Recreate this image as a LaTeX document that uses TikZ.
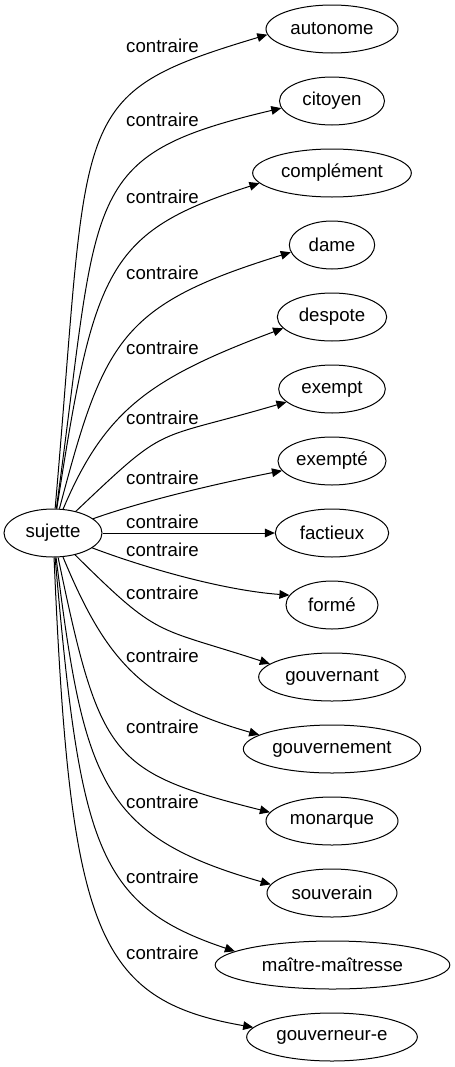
\documentclass[tikz,border=0pt]{standalone}
\usepackage{fontspec}
\setmainfont{Liberation Sans}
\usetikzlibrary{shapes.geometric,arrows.meta}
\begin{document}
\begin{tikzpicture}[x=0.75pt,y=-0.75pt,
  word/.style={draw, ellipse, minimum height=36pt, inner sep=0pt, line width=0.75pt, font=\fontsize{14}{16}\selectfont},
  lab/.style={inner sep=0pt, font=\fontsize{14}{16}\selectfont},
  edge/.style={-{Triangle[length=7.5pt,width=6.5pt]}, line width=0.75pt}]
\useasboundingbox (0,0) rectangle (454,1067);
% nodes
\node[word, minimum width=73.5pt] (suj) at (53,533) {sujette};
\node[word, minimum width=99pt]   (n1)  at (332,29)   {autonome};
\node[word, minimum width=78.75pt](n2)  at (332,101)  {citoyen};
\node[word, minimum width=119pt]  (n3)  at (332,173)  {complément};
\node[word, minimum width=64pt]   (n4)  at (332,245)  {dame};
\node[word, minimum width=82pt]   (n5)  at (332,317)  {despote};
\node[word, minimum width=80pt]   (n6)  at (332,389)  {exempt};
\node[word, minimum width=81pt]   (n7)  at (332,461)  {exempté};
\node[word, minimum width=85pt]   (n8)  at (332,533)  {factieux};
\node[word, minimum width=69pt]   (n9)  at (332,605)  {formé};
\node[word, minimum width=110pt]  (n10) at (332,677)  {gouvernant};
\node[word, minimum width=133pt]  (n11) at (332,749)  {gouvernement};
\node[word, minimum width=99pt]   (n12) at (332,821)  {monarque};
\node[word, minimum width=97.5pt] (n13) at (332,893)  {souverain};
\node[word, minimum width=176pt]  (n14) at (332.5,965) {maître-maîtresse};
\node[word, minimum width=128pt]  (n15) at (332,1037) {gouverneur-e};
% labels
\node[lab] (l1)  at (162.5,46)  {contraire};
\node[lab] (l2)  at (162.5,120) {contraire};
\node[lab] (l3)  at (162.5,197) {contraire};
\node[lab] (l4)  at (162.5,273) {contraire};
\node[lab] (l5)  at (162.5,348) {contraire};
\node[lab] (l6)  at (162.5,418) {contraire};
\node[lab] (l7)  at (162.5,478) {contraire};
\node[lab] (l8)  at (162.5,522) {contraire};
\node[lab] (l9)  at (162.5,550) {contraire};
\node[lab] (l10) at (162.5,593) {contraire};
\node[lab] (l11) at (162.5,656) {contraire};
\node[lab] (l12) at (162.5,727) {contraire};
\node[lab] (l13) at (162.5,802) {contraire};
\node[lab] (l14) at (162.5,877) {contraire};
\node[lab] (l15) at (162.5,953) {contraire};
% edges
\draw[edge] (suj) .. controls (90,109) and (66,95) .. (n1.185);
\draw[edge] (suj) .. controls (100,190) and (78,156) .. (n2.188);
\draw[edge] (suj) .. controls (94,269) and (106,232) .. (n3.188);
\draw[edge] (suj) .. controls (104,340) and (120,305) .. (n4.190);
\draw[edge] (suj) .. controls (105,410) and (150,378) .. (n5.193);
\draw[edge] (suj) .. controls (170,422) and (150,442) .. (n6.196);
\draw[edge] (suj) .. controls (140,502) and (210,485) .. (n7.191);
\draw[edge] (suj) -- (n8);
\draw[edge] (suj) .. controls (140,566) and (220,590) .. (n9.167);
\draw[edge] (suj) .. controls (160,639) and (154,626) .. (n10.168);
\draw[edge] (suj) .. controls (105,658) and (140,701) .. (n11.169);
\draw[edge] (suj) .. controls (100,758) and (110,772) .. (n12.172);
\draw[edge] (suj) .. controls (84,780) and (100,836) .. (n13.172);
\draw[edge] (suj) .. controls (80,845) and (96,905) .. (n14.172);
\draw[edge] (suj) .. controls (70,930) and (95,1000) .. (n15.173);
\end{tikzpicture}
\end{document}
